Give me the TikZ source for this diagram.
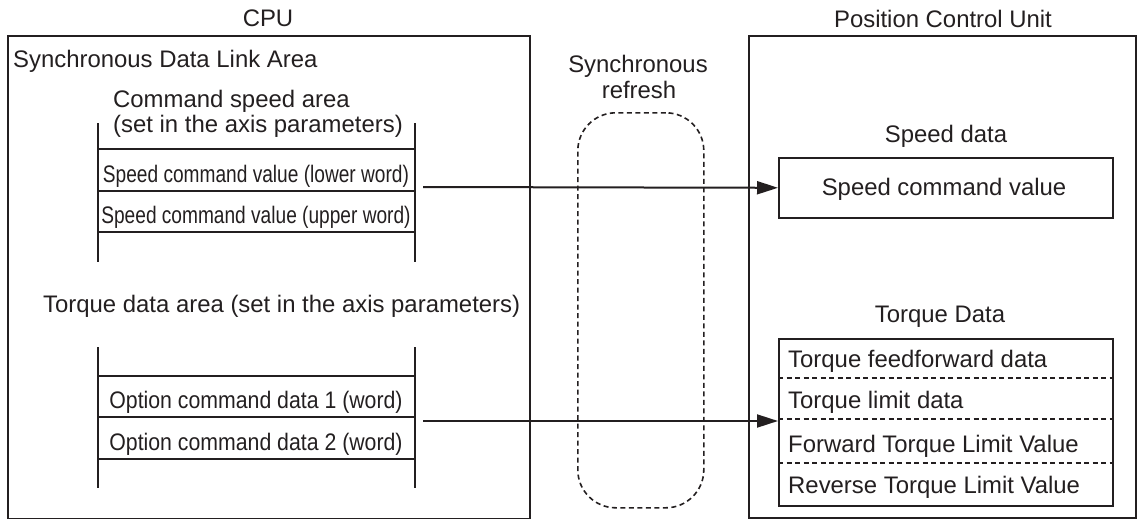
\documentclass[tikz,border=0pt]{standalone}
\usepackage{fontspec}
\setmainfont{Liberation Sans}
\usetikzlibrary{arrows.meta}
\definecolor{ink}{HTML}{231F20}
\begin{document}
\begin{tikzpicture}[x=1pt,y=-1pt,
  every node/.style={font=\fontsize{23.9}{28}\selectfont, inner sep=0pt, text=ink},
  frame/.style={draw=ink, line width=2pt, minimum width=#1, anchor=north west},
  stackline/.style={draw=ink, line width=2pt},
  cellsep/.style={draw=ink, line width=1.6pt},
  dotsep/.style={draw=ink, line width=1.4pt, dash pattern=on 5pt off 3.5pt},
  lbl/.style={anchor=base},
  lblw/.style={anchor=base west},
  flow/.style={draw=ink, line width=2pt, -{Triangle[length=21pt,width=13pt]}}]
\useasboundingbox (0,0) rectangle (1137,519);
% outer frames
\node (cpubox) [frame=522pt, minimum height=483pt] at (7,35) {};
\node (pcubox) [frame=387pt, minimum height=482pt] at (748,35) {};
\node (cpu) [lbl] at (268,27) {CPU};
\node (pcu) [lbl] at (943,28) {Position Control Unit};
\node (sdla) [lblw] at (13,67) {Synchronous Data Link Area};
% sync refresh
\node (sync) [draw=ink, line width=1.6pt, dash pattern=on 5pt off 3.5pt, rounded corners=38pt,
  minimum width=126pt, minimum height=395pt, anchor=north west] at (577,112) {};
\node (syncA) [lbl] at (638,72) {Synchronous};
\node (syncB) [lbl] at (639,98) {refresh};
% command speed area stack
\node (csa1) [lblw] at (113,107) {Command speed area};
\node (csa2) [lblw] at (113,132) {(set in the axis parameters)};
\draw[stackline] (98,123) -- (98,262);
\draw[stackline] (415,123) -- (415,262);
\draw[cellsep] (98,149) -- (415,149);
\draw[cellsep] (98,191) -- (415,191);
\draw[cellsep] (98,232) -- (415,232);
\node (scvl) [lbl] at (256,182) {\scalebox{0.8}[1]{Speed command value (lower word)}};
\node (scvu) [lbl] at (256,223) {\scalebox{0.8}[1]{Speed command value (upper word)}};
% torque data area stack
\node (tda) [lblw] at (43,312) {Torque data area (set in the axis parameters)};
\draw[stackline] (98,347) -- (98,488);
\draw[stackline] (415,347) -- (415,488);
\draw[cellsep] (98,376) -- (415,376);
\draw[cellsep] (98,417) -- (415,417);
\draw[cellsep] (98,459) -- (415,459);
\node (ocd1) [lbl] at (256,408) {\scalebox{0.89}[1]{Option command data 1 (word)}};
\node (ocd2) [lbl] at (256,450) {\scalebox{0.89}[1]{Option command data 2 (word)}};
% speed data
\node (sdt) [lbl] at (946,142) {Speed data};
\node (spd) [frame=334pt, line width=1.6pt, minimum height=60pt] at (778,157) {};
\node (spdt) [lbl] at (944,195) {Speed command value};
% torque data
\node (tdt) [lbl] at (940,322) {Torque Data};
\node (tq) [frame=334pt, line width=1.6pt, minimum height=167pt] at (778,338) {};
\draw[dotsep] (778,378) -- (1112,378);
\draw[dotsep] (778,419) -- (1112,419);
\draw[dotsep] (778,463) -- (1112,463);
\node (tq1) [lblw] at (788,367) {Torque feedforward data};
\node (tq2) [lblw] at (788,408) {Torque limit data};
\node (tq3) [lblw] at (788,452) {Forward Torque Limit Value};
\node (tq4) [lblw] at (788,493) {Reverse Torque Limit Value};
% arrows
\coordinate (a1) at (423,187);
\coordinate (a2) at (423,421);
\draw[flow] (a1) -- (spd.west);
\draw[flow] (a2) -- (a2 -| tq.west);
\end{tikzpicture}
\end{document}
